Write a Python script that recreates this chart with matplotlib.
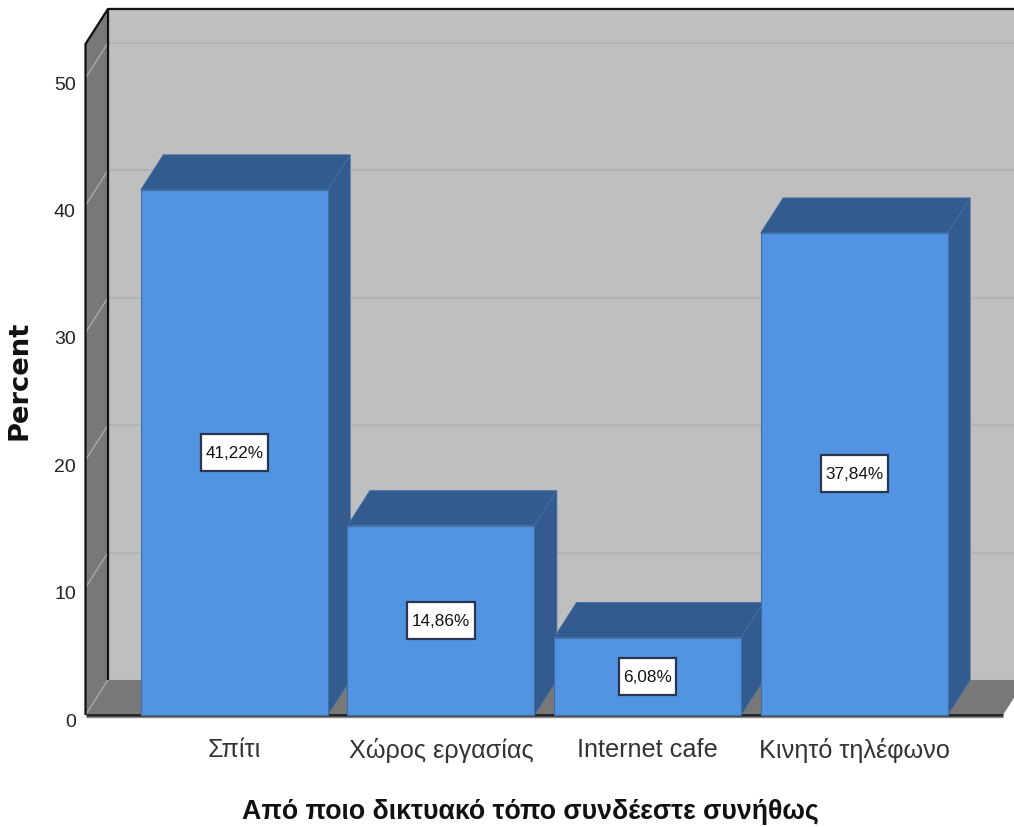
import matplotlib
matplotlib.use("Agg")
import matplotlib.pyplot as plt
from matplotlib.patches import Polygon
from matplotlib.path import Path
from matplotlib.transforms import ScaledTranslation

categories = ["Σπίτι", "Χώρος εργασίας", "Internet cafe", "Κινητό τηλέφωνο"]
percents = [41.22, 14.86, 6.08, 37.84]
value_labels = ["41,22%", "14,86%", "6,08%", "37,84%"]
y_ticks = [0, 10, 20, 30, 40, 50]

SANS = ["Liberation Sans", "DejaVu Sans"]

# 3D look: how far the back plane sits from the front plane, in data units
DEPTH_X = 0.1085
DEPTH_Y = 2.75
BAR_WIDTH = 0.905
XMIN, XMAX = -0.72, 3.72
YMAX = 52.67

WALL = "#bfbfbf"
SIDE = "#787878"
BAR_FRONT = "#5294e2"
BAR_DARK = "#335b8e"
BAR_EDGE = "#3f6fa8"

fig = plt.figure(figsize=(10.14, 8.28), dpi=100)
ax = fig.add_axes([85.5 / 1014, 112 / 828, 917.5 / 1014, 671 / 828])
ax.set_xlim(XMIN, XMAX)
ax.set_ylim(0, YMAX)
for s in ax.spines.values():
    s.set_visible(False)
ax.patch.set_visible(False)


def poly(pts, color, z, edge="none", lw=0.0):
    ax.add_patch(Polygon(pts, closed=True, facecolor=color, edgecolor=edge,
                         linewidth=lw, clip_on=False, zorder=z))


def line(xs, ys, color, lw, z):
    ax.plot(xs, ys, color=color, lw=lw, clip_on=False, zorder=z,
            solid_capstyle="butt")


def label_box(x0, y0, width, height, mutation_size):
    # value labels sit in a box with more room above and below than at the sides
    px, py = 4.5, 11
    x1, y1 = x0 + width + px, y0 + height + py
    x0, y0 = x0 - px, y0 - py
    return Path([(x0, y0), (x1, y0), (x1, y1), (x0, y1), (x0, y0)], closed=True)


back_l, back_r = XMIN + DEPTH_X, XMAX + DEPTH_X
back_top = YMAX + DEPTH_Y

# back wall, side wall and floor
poly([(back_l, DEPTH_Y), (back_r, DEPTH_Y), (back_r, back_top), (back_l, back_top)], WALL, 1)
poly([(XMIN, 0), (back_l, DEPTH_Y), (back_l, back_top), (XMIN, YMAX)], SIDE, 1)
poly([(XMIN, 0), (XMAX, 0), (back_r, DEPTH_Y), (back_l, DEPTH_Y)], SIDE, 1)

# gridlines run along the back wall and down the side wall
for t in y_ticks:
    if t > 0:
        line([back_l, back_r], [t + DEPTH_Y] * 2, "#b4b4b4", 1.6, 2)
    line([XMIN, back_l], [t, t + DEPTH_Y], "#a8a8a8", 1.0, 2)

# frame
line([XMIN, XMIN, back_l, back_r], [0, YMAX, back_top, back_top], "#111111", 1.6, 3)
line([back_l, back_l], [DEPTH_Y, back_top], "#111111", 1.6, 3)
line([XMIN, XMAX], [0, 0], "#222222", 2.0, 3)
line([XMIN, XMAX], [-0.12, -0.12], "#8a8a8a", 1.0, 3)

for i, (val, lab) in enumerate(zip(percents, value_labels)):
    l, r = i - BAR_WIDTH / 2, i + BAR_WIDTH / 2
    z = 4 + i
    poly([(r, 0), (r + DEPTH_X, DEPTH_Y), (r + DEPTH_X, val + DEPTH_Y), (r, val)],
         BAR_DARK, z, BAR_EDGE, 0.6)
    poly([(l, val), (r, val), (r + DEPTH_X, val + DEPTH_Y), (l + DEPTH_X, val + DEPTH_Y)],
         BAR_DARK, z, BAR_EDGE, 0.6)
    poly([(l, 0), (r, 0), (r, val), (l, val)], BAR_FRONT, z, BAR_EDGE, 0.8)
    ax.text(i, val / 2, lab, ha="center", va="center", fontsize=12.3, family=SANS,
            color="#111111", zorder=20,
            bbox=dict(boxstyle=label_box, facecolor="white", edgecolor="#2b3550", linewidth=1.6))

ax.set_yticks(y_ticks)
ax.set_yticklabels([str(t) for t in y_ticks], family=SANS, fontsize=14, color="#222222")
ax.set_xticks(range(len(categories)))
ax.set_xticklabels(categories, family=SANS, fontsize=18.2, color="#333333")
ax.tick_params(axis="both", length=0)
ax.tick_params(axis="y", pad=7)
ax.tick_params(axis="x", pad=16)

# axis numbers hang slightly below their gridline
shift = ScaledTranslation(0, -3 / 72, fig.dpi_scale_trans)
for tl in ax.get_yticklabels():
    tl.set_transform(tl.get_transform() + shift)

fig.text(530 / 1014, 1 - 812 / 828, "Από ποιο δικτυακό τόπο συνδέεστε συνήθως", ha="center", va="center",
         family=SANS, fontweight="bold", fontsize=19.3, color="#111111")
fig.text(20 / 1014, 1 - 380 / 828, "Percent", rotation=90, ha="center", va="center",
         family=["DejaVu Sans"], fontweight="bold", fontsize=19.7, color="#111111")

fig.savefig("out.png", dpi=100)
